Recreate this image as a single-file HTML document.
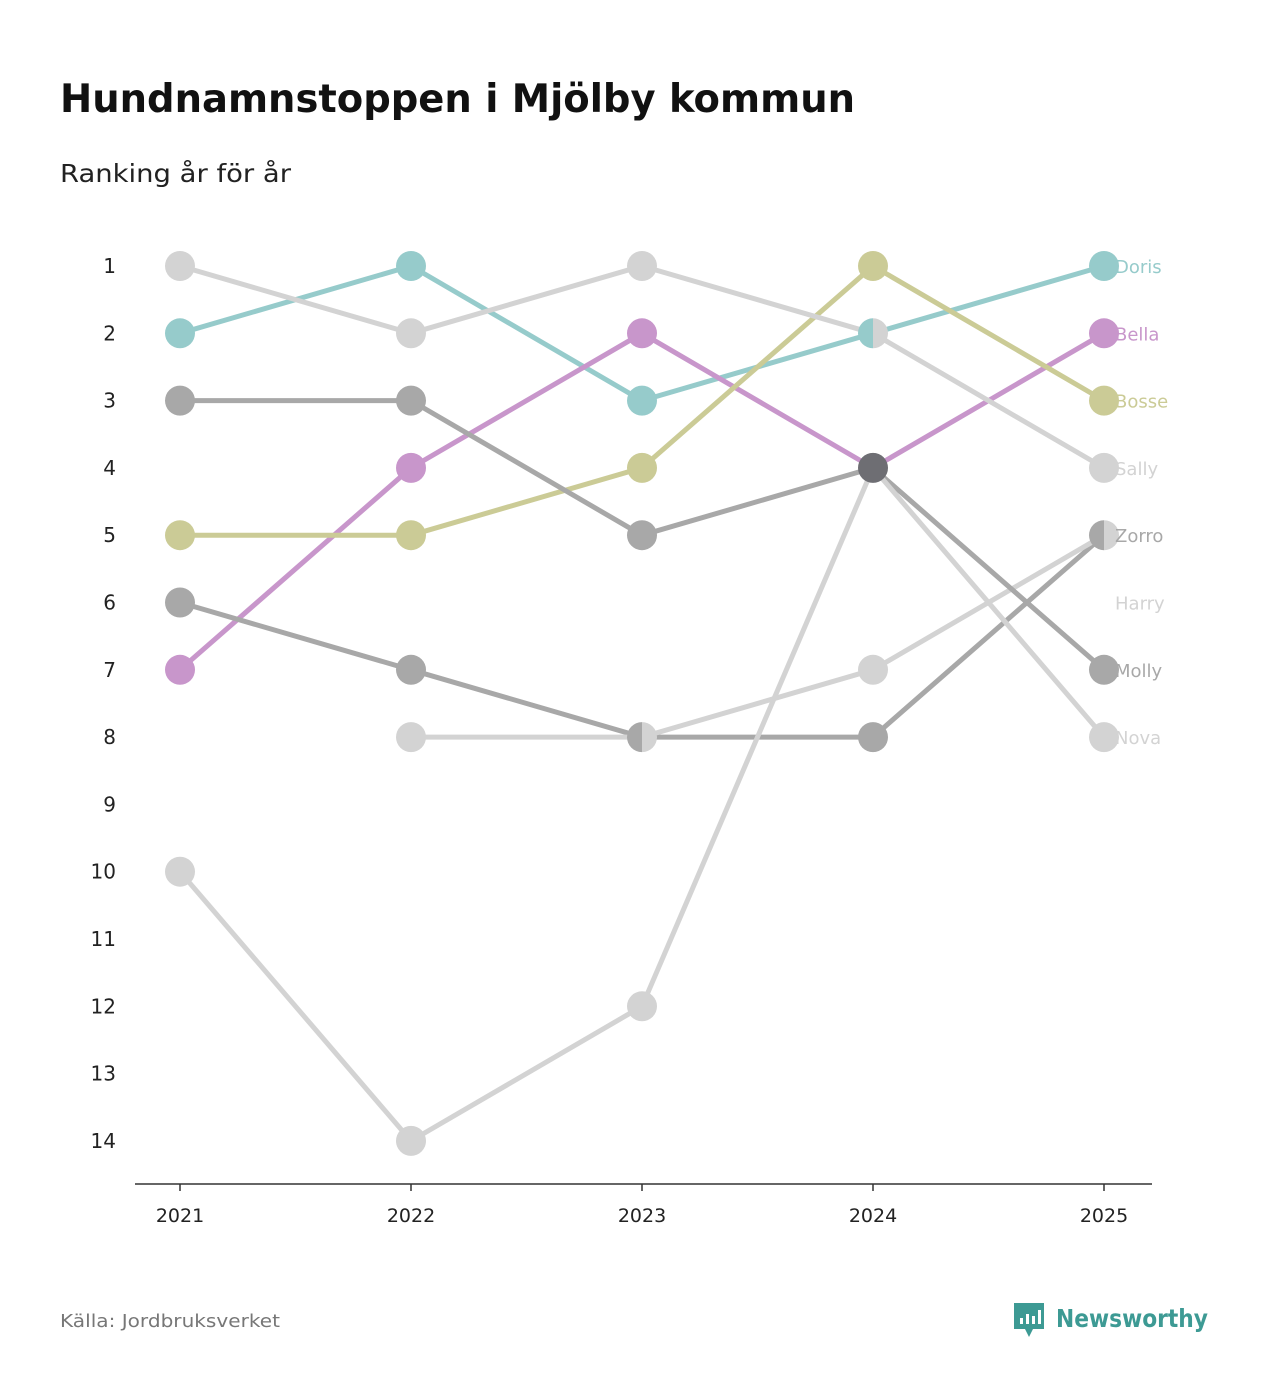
<!DOCTYPE html>
<html><head><meta charset="utf-8">
<style>
body{margin:0;background:#fff;font-family:"DejaVu Sans","Liberation Sans",sans-serif;}
#wrap{position:relative;width:1272px;height:1400px;overflow:hidden;}
</style></head>
<body>
<div id="wrap">
<svg id="chart" width="1272" height="1400">
<text x="60" y="112" font-size="39" font-weight="bold" fill="#111" textLength="795" lengthAdjust="spacingAndGlyphs">Hundnamnstoppen i Mjölby kommun</text>
<text x="60" y="182" font-size="25" fill="#222" textLength="231" lengthAdjust="spacingAndGlyphs">Ranking år för år</text>
<text x="60" y="1327" font-size="18" fill="#777" textLength="220" lengthAdjust="spacingAndGlyphs">Källa: Jordbruksverket</text>
<g>
<path d="M1014 1303 h30 v26 h-11 l-4 8 l-4 -8 h-11 z" fill="#3d9a94"/>
<rect x="1020" y="1318" width="3" height="6" fill="#fff"/><rect x="1026" y="1314" width="3" height="10" fill="#fff"/><rect x="1032" y="1316" width="3" height="8" fill="#fff"/><rect x="1038" y="1310" width="3" height="14" fill="#fff"/>
<text x="1056" y="1327" font-size="25" font-weight="bold" fill="#3d9a94" textLength="152" lengthAdjust="spacingAndGlyphs">Newsworthy</text>
</g>
</svg>
</div>
<script>
const years=["2021","2022","2023","2024","2025"];
const names=["Doris","Bella","Bosse","Sally","Zorro","Harry","Molly","Nova"];
const doris=[2,1,3,2,1];
const bella=[7,4,2,4,2];
const bosse=[5,5,4,1,3];
const sally=[1,2,1,2,4];
const zorro=[6,7,8,8,5];
const harry=[null,8,8,7,5];
const molly=[3,3,5,4,7];
const nova=[10,14,12,4,8];
const labelRanks=[1,2,3,4,5,6,7,8];
const rankTicks=[1,2,3,4,5,6,7,8,9,10,11,12,13,14];
const seriesData=[doris,bella,bosse,sally,zorro,harry,molly,nova];
const colors=["#96cbcb","#c896cb","#cbcb96","#d3d3d3","#a8a8a8","#d3d3d3","#a8a8a8","#d3d3d3"];
const NS="http://www.w3.org/2000/svg";
const svg=document.getElementById('chart');
const xs=i=>180+i*231;
const ys=r=>266+(r-1)*67.3;
function mk(t,a,p){const e=document.createElementNS(NS,t);for(const k in a)e.setAttribute(k,a[k]);(p||svg).appendChild(e);return e;}
const ax=mk('line',{x1:135,x2:1152,y1:1184,y2:1184,stroke:'#333','stroke-width':1.5});


years.forEach((y,i)=>{
 const t=mk('line',{x1:xs(i),x2:xs(i),y1:1184,y2:1191,stroke:'#333','stroke-width':1.5});
 
 
 const l=mk('text',{x:xs(i),y:1222,'font-size':19,'text-anchor':'middle',fill:'#222'});l.textContent=y;
 
 
});
rankTicks.forEach(r=>{
 const l=mk('text',{x:116,y:ys(r)+7,'font-size':20,'text-anchor':'end',fill:'#222'});l.textContent=r;
 
 
});
seriesData.forEach((s,k)=>{
 let d='';s.forEach((v,i)=>{if(v==null)return;d+=(d?'L':'M')+xs(i)+' '+ys(v);});
 const p=mk('path',{d:d,fill:'none',stroke:colors[k],'stroke-width':5,'stroke-linejoin':'round'});
 
 
});
const groups={};
seriesData.forEach((s,k)=>s.forEach((v,i)=>{if(v==null)return;const key=i+'_'+v;(groups[key]=groups[key]||[]).push(k);}));
for(const key in groups){
 const [i,v]=key.split('_').map(Number);const ks=groups[key];const cx=xs(i),cy=ys(v),r=15;
 let g;
 if(ks.length>=3){g=mk('circle',{cx:cx,cy:cy,r:r,fill:'#6e6e73'});}
 else if(ks.length==2){g=mk('g',{});
  mk('path',{d:`M${cx} ${cy-r}A${r} ${r} 0 0 0 ${cx} ${cy+r}Z`,fill:colors[ks[0]]},g);
  mk('path',{d:`M${cx} ${cy-r}A${r} ${r} 0 0 1 ${cx} ${cy+r}Z`,fill:colors[ks[1]]},g);}
 else g=mk('circle',{cx:cx,cy:cy,r:r,fill:colors[ks[0]]});
 
 
}
names.forEach((n,k)=>{
 const l=mk('text',{x:1115,y:ys(labelRanks[k])+7,'font-size':18,fill:colors[k]});l.textContent=n;
 
 
});
</script>
</body></html>
